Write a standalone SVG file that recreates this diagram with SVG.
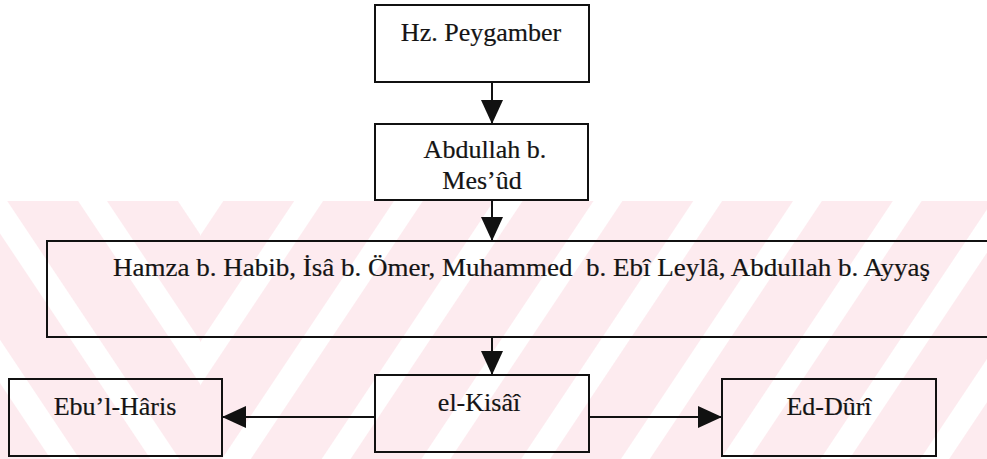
<svg xmlns="http://www.w3.org/2000/svg" width="987" height="459" viewBox="0 0 987 459">
<defs>
<style>
.box{fill:none;stroke:#111;stroke-width:2}
.t{font-family:"Liberation Serif","Times New Roman",serif;font-size:26px;fill:#141414;stroke:#141414;stroke-width:0.2;white-space:pre;text-anchor:middle}
.c{fill:none;stroke:#111;stroke-width:2}
</style>
<marker id="ah" viewBox="0 0 24 22" refX="24" refY="11" markerWidth="24" markerHeight="22" markerUnits="userSpaceOnUse" orient="auto">
<path d="M0,0 L24,11 L0,22 z" fill="#111"/>
</marker>
<pattern id="pr" patternUnits="userSpaceOnUse" x="188.5" y="0" width="83" height="40" patternTransform="rotate(33.7 200 363)">
<rect x="0" y="0" width="83" height="40" fill="#fdebef"/>
<rect x="0" y="0" width="24" height="40" fill="#ffffff"/>
</pattern>
<pattern id="pl" patternUnits="userSpaceOnUse" x="188.5" y="0" width="83" height="40" patternTransform="rotate(-33.7 200 363)">
<rect x="0" y="0" width="83" height="40" fill="#fdebef"/>
<rect x="0" y="0" width="24" height="40" fill="#ffffff"/>
</pattern>
</defs>
<rect x="0" y="0" width="987" height="459" fill="#ffffff"/>
<g id="watermark">
<rect x="0" y="201" width="200" height="258" fill="url(#pl)"/>
<rect x="200" y="201" width="787" height="258" fill="url(#pr)"/>
</g>
<g id="connectors">
<line class="c" x1="492" y1="82" x2="492" y2="124" marker-end="url(#ah)"/>
<line class="c" x1="492" y1="200" x2="492" y2="241" marker-end="url(#ah)"/>
<line class="c" x1="492" y1="337" x2="492" y2="375" marker-end="url(#ah)"/>
<line class="c" x1="375" y1="417" x2="222" y2="417" marker-end="url(#ah)"/>
<line class="c" x1="589" y1="417" x2="722" y2="417" marker-end="url(#ah)"/>
</g>
<g id="n-peygamber">
<rect class="box" x="375" y="5" width="214" height="77"/>
<text class="t" x="481" y="41">Hz. Peygamber</text>
</g>
<g id="n-abdullah">
<rect class="box" x="375" y="124" width="213" height="76"/>
<text class="t" x="485" y="158">Abdullah b.</text>
<text class="t" x="482" y="189">Mes’ûd</text>
</g>
<g id="n-hamza">
<rect class="box" x="47" y="241" width="950" height="96"/>
<text class="t" x="113" y="276" style="text-anchor:start" textLength="817" lengthAdjust="spacingAndGlyphs">Hamza b. Habib, İsâ b. Ömer, Muhammed  b. Ebî Leylâ, Abdullah b. Ayyaş</text>
</g>
<g id="n-kisai">
<rect class="box" x="375" y="375" width="214" height="77"/>
<text class="t" x="479" y="411">el-Kisâî</text>
</g>
<g id="n-ebulharis">
<rect class="box" x="9" y="379" width="213" height="77"/>
<text class="t" x="115" y="415">Ebu’l-Hâris</text>
</g>
<g id="n-eddurî">
<rect class="box" x="722" y="379" width="214" height="77"/>
<text class="t" x="829" y="415">Ed-Dûrî</text>
</g>
</svg>
